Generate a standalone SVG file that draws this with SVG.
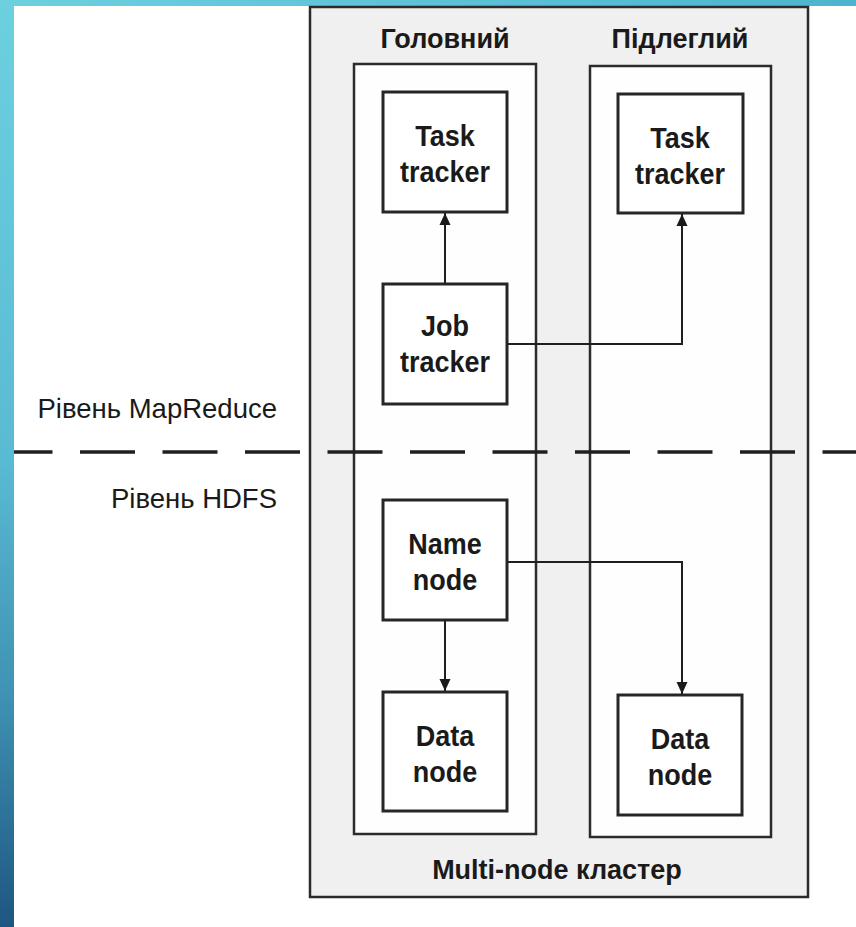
<svg xmlns="http://www.w3.org/2000/svg" width="856" height="927" viewBox="0 0 856 927">
<defs>
<linearGradient id="bandV" x1="0" y1="0" x2="0" y2="1">
<stop offset="0" stop-color="#6dd0e0"/>
<stop offset="0.5" stop-color="#59bad3"/>
<stop offset="0.75" stop-color="#3f92b3"/>
<stop offset="1" stop-color="#1e5680"/>
</linearGradient>
<linearGradient id="bandH" x1="0" y1="0" x2="1" y2="0">
<stop offset="0" stop-color="#6dd0e0"/>
<stop offset="1" stop-color="#4db4cf"/>
</linearGradient>
<marker id="arr" markerUnits="userSpaceOnUse" markerWidth="12" markerHeight="14" viewBox="0 0 12 14" refX="12" refY="7" orient="auto">
<path d="M0,1.5 L12,7 L0,12.5 Z" fill="#1a1a1a"/>
</marker>
<style>
.outer{fill:#f0f0f0;stroke:#2b2b2b;stroke-width:2.5}
.col{fill:#fefefe;stroke:#2b2b2b;stroke-width:2.5}
.box{fill:#ffffff;stroke:#262626;stroke-width:3}
.b{font-family:"Liberation Sans",Arial,sans-serif;font-weight:bold;font-size:27px;fill:#1a1a1a;text-anchor:middle}
.n{font-family:"Liberation Sans",Arial,sans-serif;font-weight:bold;font-size:30px;fill:#1a1a1a;text-anchor:middle}
.r{font-family:"Liberation Sans",Arial,sans-serif;font-size:27.5px;fill:#1a1a1a;text-anchor:end}
.c{fill:none;stroke:#1f1f1f;stroke-width:2}
</style>
</defs>
<rect x="0" y="0" width="856" height="927" fill="#ffffff"/>
<rect x="0" y="0" width="856" height="6" fill="url(#bandH)"/>
<rect x="0" y="0" width="14" height="927" fill="url(#bandV)"/>

<g id="cluster">
<rect class="outer" x="310" y="7" width="498" height="890"/>
<text class="b" x="557" y="879">Multi-node кластер</text>
</g>
<g id="master">
<rect class="col" x="354" y="64" width="182" height="770"/>
<text class="b" x="445" y="48">Головний</text>
</g>
<g id="slave">
<rect class="col" x="590" y="66" width="181" height="771"/>
<text class="b" x="680" y="48">Підлеглий</text>
</g>
<g id="task-tracker-master">
<rect class="box" x="383" y="92" width="124" height="120"/>
<text class="n" transform="translate(445,146) scale(0.9,1)">Task</text>
<text class="n" transform="translate(445,182) scale(0.9,1)">tracker</text>
</g>
<g id="task-tracker-slave">
<rect class="box" x="618" y="94" width="125" height="119"/>
<text class="n" transform="translate(680,148) scale(0.9,1)">Task</text>
<text class="n" transform="translate(680,184) scale(0.9,1)">tracker</text>
</g>
<g id="job-tracker">
<rect class="box" x="383" y="284" width="124" height="120"/>
<text class="n" transform="translate(445,336) scale(0.9,1)">Job</text>
<text class="n" transform="translate(445,372) scale(0.9,1)">tracker</text>
</g>
<g id="name-node">
<rect class="box" x="383" y="500" width="124" height="120"/>
<text class="n" transform="translate(445,554) scale(0.9,1)">Name</text>
<text class="n" transform="translate(445,590) scale(0.9,1)">node</text>
</g>
<g id="data-node-master">
<rect class="box" x="383" y="692" width="124" height="119"/>
<text class="n" transform="translate(445,746) scale(0.9,1)">Data</text>
<text class="n" transform="translate(445,782) scale(0.9,1)">node</text>
</g>
<g id="data-node-slave">
<rect class="box" x="618" y="695" width="124" height="120"/>
<text class="n" transform="translate(680,749) scale(0.9,1)">Data</text>
<text class="n" transform="translate(680,785) scale(0.9,1)">node</text>
</g>
<g id="connectors">
<path class="c" d="M445,284 V213" marker-end="url(#arr)"/>
<path class="c" d="M507,344 H682 V214" marker-end="url(#arr)"/>
<path class="c" d="M445,620 V691" marker-end="url(#arr)"/>
<path class="c" d="M507,562 H682 V694" marker-end="url(#arr)"/>
</g>
<g id="levels">
<text class="r" x="277" y="418">Рівень MapReduce</text>
<text class="r" x="277" y="508">Рівень HDFS</text>
<line x1="14" y1="452" x2="856" y2="452" stroke="#1f1f1f" stroke-width="3.5" stroke-dasharray="55 27.5" stroke-dashoffset="16.5"/>
</g>
</svg>
